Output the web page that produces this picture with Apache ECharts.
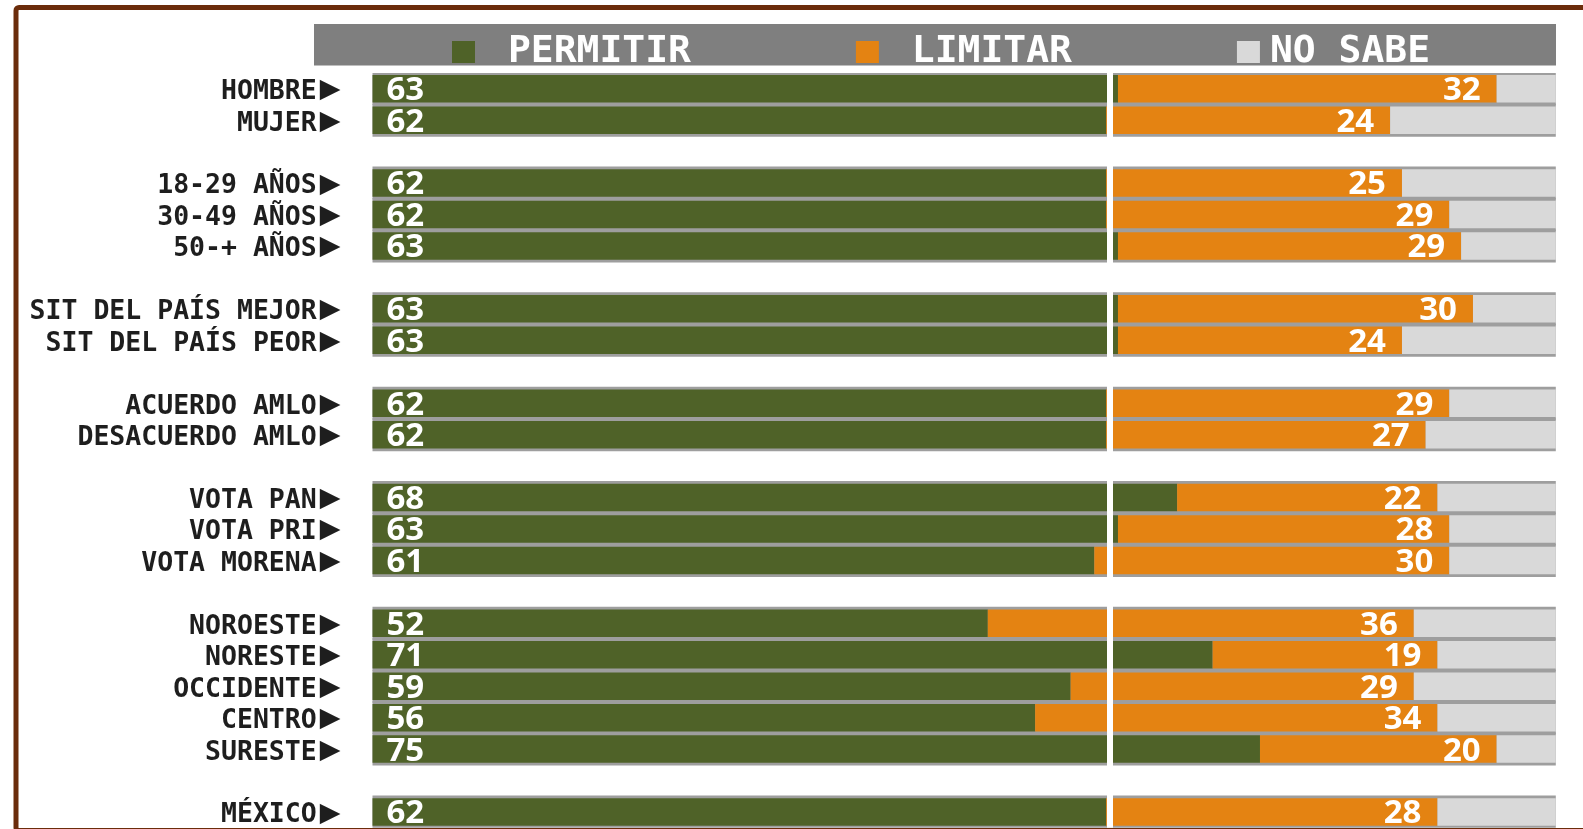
<!DOCTYPE html>
<html>
<head>
<meta charset="utf-8">
<script src="https://cdn.jsdelivr.net/npm/echarts@6/dist/echarts.min.js"></script>
<style>
html,body{margin:0;padding:0;background:#fff;}
#chart{width:1583px;height:829px;}
</style>
</head>
<body>
<div id="chart"></div>
<script>
// Categories ('' = spacer row between groups)
const categories = ['HOMBRE','MUJER','','18-29 AÑOS','30-49 AÑOS','50-+ AÑOS','','SIT DEL PAÍS MEJOR','SIT DEL PAÍS PEOR','','ACUERDO AMLO','DESACUERDO AMLO','','VOTA PAN','VOTA PRI','VOTA MORENA','','NOROESTE','NORESTE','OCCIDENTE','CENTRO','SURESTE','','MÉXICO'];
const permitir = [63,62,null,62,62,63,null,63,63,null,62,62,null,68,63,61,null,52,71,59,56,75,null,62];
const limitar  = [32,24,null,25,29,29,null,30,24,null,29,27,null,22,28,30,null,36,19,29,34,20,null,28];
const noSabe   = [5,14,null,13,9,8,null,7,13,null,9,11,null,10,9,9,null,12,10,12,10,5,null,10];
const seriesNames = [' PERMITIR',' LIMITAR','NO SABE'];
const referenceValue = 62.3; // white vertical reference line

const axisCats = categories.map((c,i) => c === '' ? '_gap' + i : c);
const frameValues = categories.map(c => c === '' ? null : 100);

const chart = echarts.init(document.getElementById('chart'));
const valueFont = 'Open Sans';
chart.setOption({
  animation: false,
  backgroundColor: '#fff',
  graphic: [
    {type:'rect', z:0, shape:{x:16,y:7.5,width:1620,height:823,r:3}, style:{fill:'none',stroke:'#6b2c0b',lineWidth:5}},
    {type:'rect', z:0, shape:{x:314,y:24,width:1242,height:41.5}, style:{fill:'#7f7f7f'}}
  ],
  legend: {
    left: 452, top: 32, padding: 0,
    itemWidth: 23, itemHeight: 22, itemGap: 165,
    icon: 'rect',
    data: seriesNames,
    textStyle: {color:'#fff', fontFamily:'DejaVu Sans Mono', fontWeight:'bold', fontSize:38, lineHeight:40, padding:[0,0,0,5]},
    selectedMode: false
  },
  grid: {left: 372.5, right: 27.2, top: 73, bottom: 1},
  xAxis: {type:'value', min:0, max:100, show:false, splitLine:{show:false}},
  yAxis: [
    {type:'category', inverse:true, data: axisCats,
      axisLine:{show:false}, axisTick:{show:false}, splitLine:{show:false},
      axisLabel:{interval:0, margin:32, color:'#1e1e1e', fontFamily:'DejaVu Sans Mono', fontWeight:'bold', fontSize:26.5,
        padding:[7,0,0,0],
        formatter: v => v.indexOf('_gap') === 0 ? '' : v + '{tri|▶}',
        rich:{tri:{fontFamily:'DejaVu Sans', fontSize:27, color:'#1e1e1e', padding:[0,0,4,3]}}}},
    {type:'category', inverse:true, data: axisCats, show:false}
  ],
  series: [
    {type:'bar', name:'frame', yAxisIndex:1, data: frameValues, barWidth:33, z:1,
      itemStyle:{color:'#9e9e9e'}, silent:true, legendHoverLink:false},
    {type:'bar', name:seriesNames[0], stack:'t', data: permitir, barWidth:27.5, z:2,
      itemStyle:{color:'#4f6228'},
      label:{show:true, position:'insideLeft', distance:14, offset:[0,2], color:'#fff',
        fontFamily:valueFont, fontWeight:'bold', fontSize:33},
      markLine:{silent:true, symbol:'none', label:{show:false}, z:5,
        lineStyle:{color:'#fff', width:6, type:'solid'},
        data:[{xAxis: referenceValue}]}},
    {type:'bar', name:seriesNames[1], stack:'t', data: limitar, barWidth:27.5, z:2,
      itemStyle:{color:'#e48312'},
      label:{show:true, position:'insideRight', distance:16, offset:[0,2], color:'#fff',
        fontFamily:valueFont, fontWeight:'bold', fontSize:33}},
    {type:'bar', name:seriesNames[2], stack:'t', data: noSabe, barWidth:27.5, z:2,
      itemStyle:{color:'#d9d9d9'}}
  ]
});
</script>
</body>
</html>
